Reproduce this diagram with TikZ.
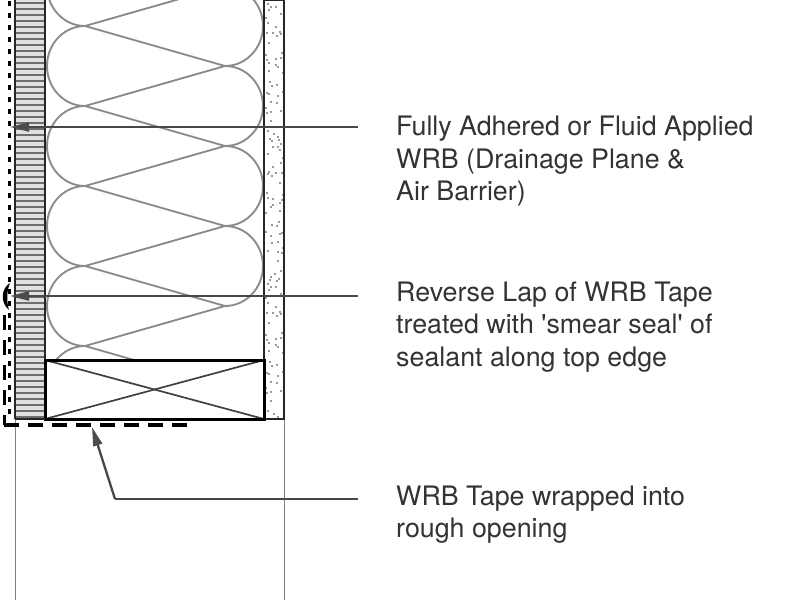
\documentclass[tikz,border=0pt]{standalone}
\usepackage{fontspec}
\newfontfamily\notefont{TeX Gyre Heros}
\usetikzlibrary{arrows.meta}
\definecolor{leadc}{HTML}{484848}
\definecolor{txtc}{HTML}{333333}
\definecolor{battc}{HTML}{8C8C8C}
\definecolor{panelc}{HTML}{E0E0E0}
\definecolor{hatchc}{HTML}{6E6E6E}
\tikzset{
  batt/.style={draw=battc,line width=1.9pt},
  frameline/.style={draw=black!85,line width=2.7pt},
  woodx/.style={draw=black!75,line width=1.7pt},
  thin guide/.style={draw=black!50,line width=.9pt},
  leader/.style={draw=leadc,line width=2.3pt,-{Triangle[length=19pt,width=9pt,color=black!70]}},
  leaderplain/.style={draw=leadc,line width=2.3pt},
  note/.style={anchor=west,align=left,inner sep=0pt,text=txtc,font=\notefont\fontsize{26.8}{32.5}\selectfont},
  speck/.style={fill=black!80,draw=none},
}
\begin{document}
\begin{tikzpicture}[x=1pt,y=-1pt]
\useasboundingbox (0,0) rectangle (800,600);
\fill[white] (0,0) rectangle (800,600);

% guide lines below the wall
\draw[thin guide] (15,419) -- (15,600);
\draw[thin guide] (284,419) -- (284,600);

% cladding panel
\fill[panelc] (15,0) rectangle (45,419);
\foreach \yy in {3,9,...,417} {\draw[hatchc,line width=1.3pt] (15,\yy) -- (45,\yy);}
\draw[frameline] (15,-2) -- (15,419);
\draw[frameline] (45,-2) -- (45,419);

% insulation batt
\begin{scope}
\clip (46,0) rectangle (263.6,360);
\foreach \yy in {-54,26,106,186,266,346} {
  \draw[batt] (85,\yy) arc[start angle=-90,end angle=-270,x radius=38,y radius=40];
}
\foreach \yy in {26,106,186,266,346} {
  \draw[batt] (85,\yy) -- (225,\yy+40);
  \draw[batt] (85,\yy) -- (225,\yy-40);
}
\foreach \yy in {-14,66,146,226,306} {
  \draw[batt] (225,\yy) arc[start angle=90,end angle=-90,x radius=38,y radius=40];
}
\end{scope}

% sheathing with specks
\begin{scope}
\clip (265,0) rectangle (283,418);
\foreach \oy/\mx in {0/0,140/1,280/0} {
\foreach \px/\py in {268/4,271/7,276/7,269/10,281/14,266/18,268/23,276/27,267/33,273/33,277/36,280/32,281/34,269/43,282/53,266/55,267/60,269/63,276/59,281/58,276/65,278/67,269/71,283/73,270/82,272/86,277/85,283/92,267/93,269/94,278/96,271/102,277/103,266/108,267/113,271/112,281/111,271/121,268/131,274/134,278/137,270/139,272/141,279/140} {
  \pgfmathsetmacro{\qx}{\mx==1 ? 549-\px : \px}
  \fill[speck] (\qx,\py+\oy) circle[radius=.85];
}}
\end{scope}
\draw[frameline] (264,360) -- (264,0) -- (284,0) -- (284,419) -- (264,419);

% blocking
\node[draw=none,minimum width=219pt,minimum height=59pt,inner sep=0pt,outer sep=0pt,fill=white] (block) at (154.5,389.5) {};
\draw[woodx] (block.north west) -- (block.south east);
\draw[woodx] (block.south west) -- (block.north east);
\draw[draw=black,line width=3pt] (block.north west) rectangle (block.south east);
\draw[frameline] (15,419) -- (45,419);

% membrane (dotted) and tape (dashed)
\draw[black,line width=3.2pt,dash pattern=on 5pt off 7pt] (9.5,1) -- (9.5,416);
\draw[black,line width=3.4pt,dash pattern=on 15pt off 9pt] (187,425) -- (2.8,425);
\draw[black,line width=3.2pt,dash pattern=on 15pt off 10pt,dash phase=5pt] (4.2,425) -- (4.2,315);
\fill[black] (10,283) .. controls (1.5,288) and (-0.5,302) .. (9,310)
  .. controls (6.5,302) and (6.5,291) .. (10,283) -- cycle;

% leaders
\coordinate (t1) at (10,127);
\coordinate (t2) at (10,296);
\coordinate (t3) at (92,427);
\coordinate (bend) at (115,499);
\coordinate (s1) at (358,127);
\coordinate (s2) at (358,296);
\coordinate (s3) at (358,499);
\draw[leader] (s1) -- (t1);
\draw[leader] (s2) -- (t2);
\draw[leaderplain] (s3) -- (bend);
\draw[leader] (bend) -- (t3);

% notes
\node[note] (n1) at (396,161.5) {Fully Adhered or Fluid Applied\\WRB (Drainage Plane \&\\Air Barrier)};
\node[note] (n2) at (396,327) {Reverse Lap of WRB Tape\\treated with 'smear seal' of\\sealant along top edge};
\node[note] (n3) at (396,514.5) {WRB Tape wrapped into\\rough opening};
\end{tikzpicture}
\end{document}
